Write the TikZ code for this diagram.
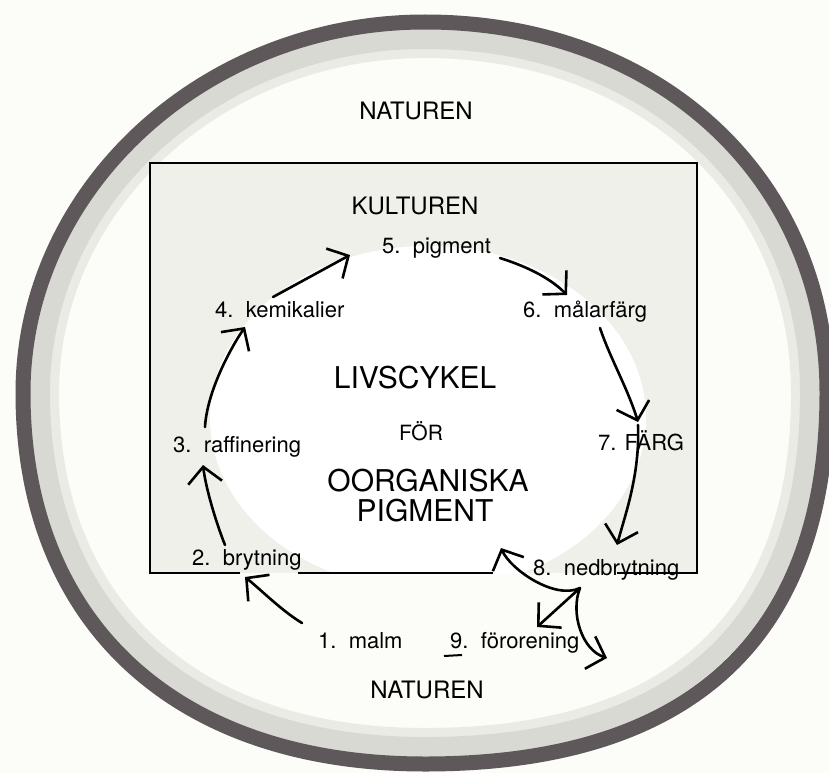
\documentclass[tikz,border=0pt]{standalone}
\usepackage{fontspec}
\setmainfont{TeX Gyre Heros}
\usetikzlibrary{arrows.meta}

\definecolor{paper}{HTML}{FCFCF8}
\definecolor{ringdark}{HTML}{5F585B}
\definecolor{ringlight}{HTML}{D9D9D4}
\definecolor{boxfill}{HTML}{F0F0EB}

% hand-drawn ring: #1 half width, #2 half height (rounder on top, squarer below)
\newcommand\blob[2]{(0,-#2) .. controls ({0.58*#1},-#2) and (#1,{-0.58*#2}) .. (#1,0)
  .. controls (#1,{0.66*#2}) and ({0.66*#1},#2) .. (0,#2)
  .. controls ({-0.62*#1},#2) and (-#1,{0.62*#2}) .. (-#1,0)
  .. controls (-#1,{-0.55*#2}) and ({-0.55*#1},-#2) .. (0,-#2) -- cycle}

\begin{document}
\begin{tikzpicture}[x=1pt, y=-1pt,
    lbl/.style={inner sep=0pt, anchor=base west, font=\fontsize{22}{26}\selectfont},
    realm/.style={inner sep=0pt, anchor=base, font=\fontsize{24}{28}\selectfont},
    headline/.style={inner sep=0pt, anchor=base, font=\fontsize{30}{30}\selectfont},
    pil/.style={line width=2.6pt, line cap=round, -{Straight Barb[length=16pt,width=34pt]}},
    kant/.style={line width=2pt}]
    \fill[paper] (0,0) rectangle (829,773);
    \useasboundingbox (0,0) rectangle (829,773);

    % NATUREN - the ring
    \begin{scope}[shift={(425,393)}]
        \draw[ringlight!50!paper, line width=10pt] \blob{371}{340};
        \draw[ringlight, line width=20pt] \blob{385}{354};
        \draw[ringdark, line width=15pt] \blob{402}{371};
    \end{scope}

    % KULTUREN - the box, white round field inside
    \fill[boxfill] (150,163) rectangle (697,573);
    \begin{scope}
        \clip (150,163) rectangle (697,573);
        \fill[white] (428,418) ellipse [x radius=218, y radius=172];
    \end{scope}
    \draw[kant] (240,573) -| (150,163) -| (697,573) -- (617,573);
    \draw[kant] (298,573) -- (493,573);

    \node[realm] (natTop) at (416,120) {NATUREN};
    \node[realm] (kult) at (415,214) {KULTUREN};
    \node[realm] (natBot) at (427,698) {NATUREN};

    % title in the middle
    \node[headline] (livs) at (415,388) {LIVSCYKEL};
    \node[inner sep=0pt, anchor=base, font=\fontsize{21}{24}\selectfont] (foer) at (421,440) {FÖR};
    \node[headline] (oorg) at (428,491) {OORGANISKA};
    \node[headline] (pigt) at (425,521) {PIGMENT};

    % the steps
    \node[lbl] (malm) at (318,648) {1.~~malm};
    \node[lbl] (bryt) at (192,565) {2.~~brytning};
    \node[lbl] (raff) at (173,452) {3.~~raffinering};
    \node[lbl] (kemi) at (215,317) {4.~~kemikalier};
    \node[lbl] (pigm) at (382,253) {5.~~pigment};
    \node[lbl] (malar) at (523,317) {6.~~målarfärg};
    \node[lbl] (farg) at (598,450) {7. FÄRG};
    \node[lbl] (nedb) at (533,575) {8.~~nedbrytning};
    \node[lbl] (foro) at (450,648) {9.~~förorening};

    \coordinate (knut) at ([shift={(47,13)}]nedb.base west);
    \coordinate (tillbaka) at ([shift={(-32,-27)}]nedb.base west);
    \coordinate (ut) at ([shift={(74,83)}]nedb.base west);

    % arrows round the cycle
    \draw[pil] ([shift={(-16,-25)}]malm.base west) .. controls +(-20,-12) and +(15,12) .. ([shift={(53,12)}]bryt.base west);
    \draw[pil] ([shift={(33,-20)}]bryt.base west) .. controls +(-8,-20) and +(3,25) .. ([shift={(30,13)}]raff.base west);
    \draw[pil] ([shift={(32,-25)}]raff.base west) .. controls +(2,-35) and +(-15,22) .. ([shift={(30,10)}]kemi.base west);
    \draw[pil] ([shift={(58,-20)}]kemi.base west) -- ([shift={(-32,2)}]pigm.base west);
    \draw[pil] ([shift={(118,5)}]pigm.base west) .. controls +(25,8) and +(-18,-18) .. ([shift={(44,-22)}]malar.base west);
    \draw[pil] ([shift={(77,11)}]malar.base west) .. controls +(10,30) and +(-10,-33) .. ([shift={(40,-28)}]farg.base west);
    \draw[pil] ([shift={(40,-25)}]farg.base west) .. controls +(2,50) and +(8,-30) .. ([shift={(84,-30)}]nedb.base west);

    % out of nedbrytning
    \draw[pil] (knut) .. controls +(-25,12) and +(10,22) .. (tillbaka);
    \draw[pil] (knut) -- ([shift={(87,-21)}]foro.base west);
    \draw[pil] (knut) .. controls +(-10,25) and +(-25,-8) .. (ut);
    \draw[line width=2pt] ([shift={(-6,8)}]foro.base west) -- ([shift={(12,7)}]foro.base west);
\end{tikzpicture}
\end{document}
